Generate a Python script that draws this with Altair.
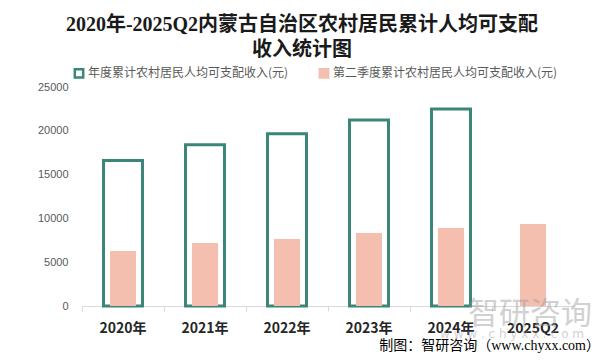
import altair as alt
import pandas as pd

categories = ["2020年", "2021年", "2022年", "2023年", "2024年", "2025Q2"]
annual_income = [16600, 18400, 19650, 21230, 22490, None]
q2_income = [6280, 7190, 7650, 8330, 8900, 9360]
series_names = ["年度累计农村居民人均可支配收入(元)", "第二季度累计农村居民人均可支配收入(元)"]
y_ticks = [0, 5000, 10000, 15000, 20000, 25000]
title_lines = ["2020年-2025Q2内蒙古自治区农村居民累计人均可支配", "收入统计图"]
footer_text = ["制图：智研咨询（www.chyxx.com）"]
watermark_text = ["智研咨询"]
watermark_url = ["w w w . c h y x x . c o m"]

TEAL = "#3b8579"
PINK = "#f5bfb0"

rows = []
for c, a, q in zip(categories, annual_income, q2_income):
    if a is not None:
        rows.append({"category": c, "series": series_names[0], "value": a})
    rows.append({"category": c, "series": series_names[1], "value": q})
df = pd.DataFrame(rows)

cjk = "Noto Sans CJK SC"

legend = alt.Legend(orient="none", legendX=-9, legendY=-20,
                    direction="horizontal", symbolType="square",
                    symbolSize=70, symbolStrokeWidth=2.5,
                    labelFontSize=12, labelColor="#595959",
                    labelFont=cjk, labelLimit=400, labelOffset=3,
                    columnPadding=25, padding=0)

x_enc = alt.X("category:N", sort=categories, title=None,
              scale=alt.Scale(paddingInner=0, paddingOuter=0),
              axis=alt.Axis(labelAngle=0, labelFontSize=14, labelFontWeight="bold",
                            labelColor="#262626", labelFont=cjk, labelPadding=10,
                            domainColor="#d9d9d9", domainWidth=1,
                            tickColor="#d9d9d9", tickSize=5, bandPosition=0,
                            grid=False))
y_enc = alt.Y("value:Q", title=None,
              scale=alt.Scale(domain=[0, 25000], nice=False),
              axis=alt.Axis(values=y_ticks, format="d", domain=False, ticks=False, grid=False,
                            labelFontSize=11, labelColor="#595959",
                            labelFont="Liberation Sans", labelPadding=14))
fill_enc = alt.Fill("series:N", title=None,
                    scale=alt.Scale(domain=series_names, range=["white", PINK]),
                    legend=legend)
stroke_enc = alt.Stroke("series:N", title=None,
                        scale=alt.Scale(domain=series_names, range=[TEAL, PINK]),
                        legend=legend)

base = alt.Chart(df)
outline = base.transform_filter(alt.datum.series == series_names[0]).mark_bar(
    size=39, strokeWidth=3
).encode(x=x_enc, y=y_enc, fill=fill_enc, stroke=stroke_enc)

q2bars = base.transform_filter(alt.datum.series == series_names[1]).mark_bar(
    size=26, strokeWidth=0
).encode(x=x_enc, y=y_enc, fill=fill_enc, stroke=stroke_enc)

wm1 = alt.Chart(pd.DataFrame({"t": watermark_text})).mark_text(
    fontSize=31, font=cjk, color="#9a9a9a", opacity=0.45, align="center", baseline="middle"
).encode(text="t:N", x=alt.value(448), y=alt.value(228))
wm2 = alt.Chart(pd.DataFrame({"t": watermark_url})).mark_text(
    fontSize=12, font="DejaVu Sans", color="#9a9a9a", opacity=0.45, align="center", baseline="middle"
).encode(text="t:N", x=alt.value(430), y=alt.value(247))
footer = alt.Chart(pd.DataFrame({"t": footer_text})).mark_text(
    fontSize=14, font="Liberation Serif, Noto Sans CJK SC", color="#000000",
    align="right", baseline="middle"
).encode(text="t:N", x=alt.value(518), y=alt.value(259))

chart = alt.layer(outline, q2bars, wm1, wm2, footer).properties(
    width=492, height=219,
    background="white",
    autosize=alt.AutoSizeParams(type="none"),
    padding={"left": 74, "top": 79, "right": 25, "bottom": 48},
    title=alt.TitleParams(text=title_lines, fontSize=20, fontWeight="bold",
                          font="Liberation Serif, Noto Sans CJK SC", color="#1a1a1a",
                          anchor="middle", dx=-26, offset=7, lineHeight=25),
).configure_view(stroke=None)

chart.save("out.html", embed_options={"renderer": "svg", "actions": False})
